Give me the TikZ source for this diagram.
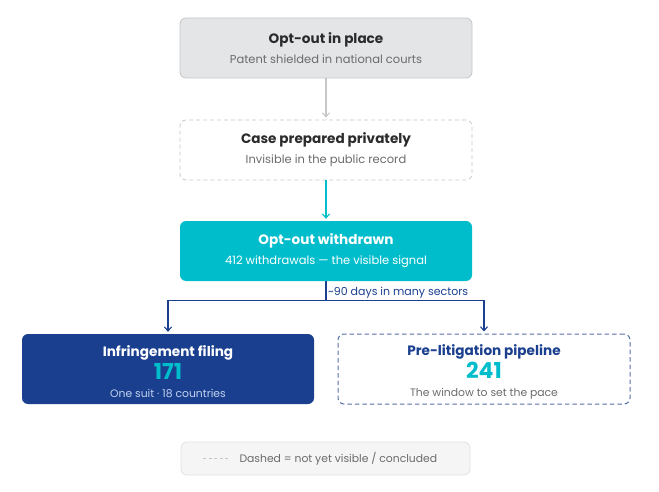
\documentclass[tikz,border=0pt]{standalone}
\usepackage{fontspec}
\setmainfont{Poppins}
\usetikzlibrary{positioning,arrows.meta,calc}

\definecolor{optgray}{HTML}{E4E5E7}
\definecolor{optline}{HTML}{C6C7C9}
\definecolor{inktext}{HTML}{2B2B2B}
\definecolor{subtext}{HTML}{6B6B6B}
\definecolor{signal}{HTML}{00BDCB}
\definecolor{navy}{HTML}{1A3F8E}
\definecolor{navydash}{HTML}{5670A8}
\definecolor{paleblue}{HTML}{C3D2F0}
\definecolor{legendbg}{HTML}{F5F5F5}
\definecolor{legendline}{HTML}{E2E2E2}

\begin{document}
\begin{tikzpicture}[x=1pt, y=1pt,
    box/.style={rounded corners=6pt, minimum width=292pt, minimum height=60pt, align=center, text=inktext, font=\fontsize{11.5}{14}\selectfont},
    wide/.style={box, minimum height=70pt},
    flow/.style={-{Straight Barb[length=4pt, width=7pt]}, line width=1.1pt, shorten >=2pt},
    note/.style={font=\fontsize{11}{13}\selectfont},
]
\useasboundingbox (0,0) rectangle (659,491);

% ================== Opt-out chain ==================
\node[box, fill=optgray, draw=optline, line width=0.8pt] (inplace) at (326,443)
  {{\fontsize{13.6}{16}\selectfont\bfseries Opt-out in place}\\[6pt]\textcolor{subtext}{Patent shielded in national courts}};
\node[box, draw=optline, dashed, dash pattern=on 4pt off 3pt, line width=0.8pt] (private) at (326,341)
  {{\fontsize{13.6}{16}\selectfont\bfseries Case prepared privately}\\[6pt]\textcolor{subtext}{Invisible in the public record}};
\node[box, fill=signal, text=white] (withdrawn) at (326,240)
  {{\fontsize{13.6}{16}\selectfont\bfseries Opt-out withdrawn}\\[6pt]412 withdrawals — the visible signal};

\draw[flow, optline] (inplace) -- (private);
\draw[flow, signal] (private) -- (withdrawn);

% ================== Outcomes ==================
\node[wide, fill=navy, text=white] (filing) at (168,122)
  {\rule{0pt}{17pt}{\fontsize{13.6}{16}\selectfont\bfseries Infringement filing}\\[2pt]
   {\fontsize{22}{24}\selectfont\bfseries\textcolor{signal}{171}}\\[4pt]
   \textcolor{paleblue}{\fontsize{10.8}{13}\selectfont One suit · 18 countries}};
\node[wide, draw=navydash, dashed, dash pattern=on 4.5pt off 3pt, line width=1pt] (pipeline) at (484,122)
  {\rule{0pt}{17pt}{\fontsize{13.6}{16}\selectfont\bfseries\textcolor{navy}{Pre-litigation pipeline}}\\[2pt]
   {\fontsize{22}{24}\selectfont\bfseries\textcolor{signal}{241}}\\[4pt]
   \textcolor{subtext}{\fontsize{10.8}{13}\selectfont The window to set the pace}};

\coordinate (split) at ($(withdrawn.south)+(0,-19)$);
\draw[navy, line width=1.1pt] (withdrawn.south) -- (split);
\draw[flow, navy] (split) -| (filing.north);
\draw[flow, navy] (split) -| (pipeline.north);
\node[note, text=navy, anchor=south west, inner sep=2pt] (lag) at (split) {\textasciitilde90 days in many sectors};

% ================== Legend ==================
\node[rounded corners=6pt, fill=legendbg, draw=legendline, line width=0.8pt, minimum width=289pt, minimum height=33pt] (legend) at (325.5,32.5) {};
\node[note, text=subtext, font=\fontsize{10.8}{13}\selectfont, anchor=west] (legendtext) at (236,32.5) {Dashed = not yet visible / concluded};
\coordinate (dashA) at (203,32.5);
\coordinate (dashB) at (229,32.5);
\draw[optline, line width=1pt, dash pattern=on 3pt off 2.5pt] (dashA) -- (dashB);

\end{tikzpicture}
\end{document}
